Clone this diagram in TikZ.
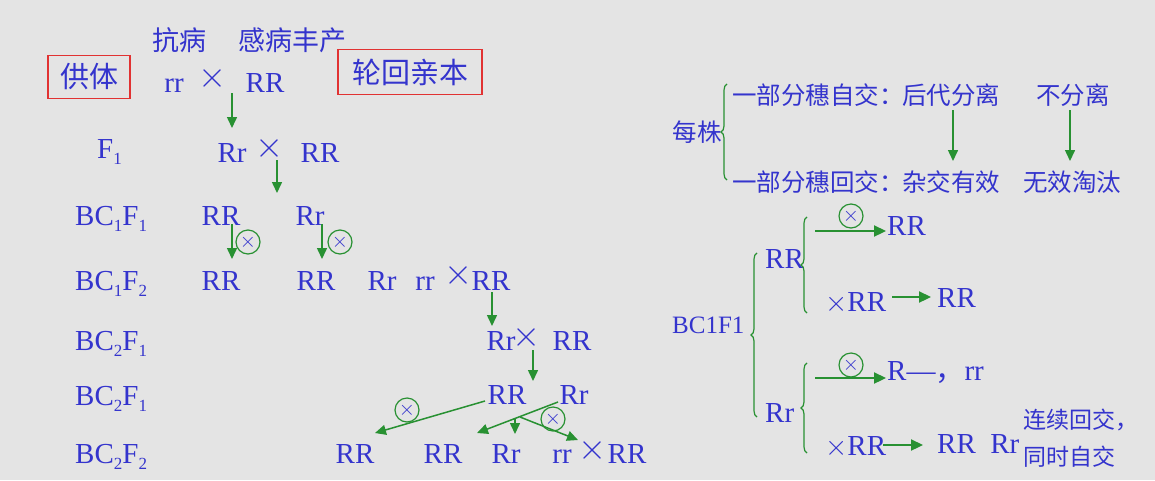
\documentclass[tikz,border=0pt]{standalone}
\usepackage{graphicx}
\usepackage{fontspec}
\setmainfont{Liberation Serif}
\newfontfamily\cjk{Noto Sans CJK SC}
\usetikzlibrary{arrows.meta,decorations.pathreplacing}
\definecolor{bg}{RGB}{228,228,228}
\definecolor{tblue}{RGB}{52,52,205}
\definecolor{tgreen}{RGB}{40,145,50}
\definecolor{tred}{RGB}{225,50,50}
\newcommand\sbs[1]{\raisebox{-6pt}{\fontsize{17}{17}\selectfont #1}}
\newcommand\mx[1]{\scalebox{#1}{$\times$}}
\newcommand\bigx{{\fontsize{24}{24}\selectfont\mx{1.15}}}
\tikzset{
 gt/.style={text=tblue,inner sep=0pt,anchor=base,font=\fontsize{29}{30}\selectfont},
 gx/.style={text=tblue,inner sep=0pt,font=\fontsize{24}{24}\selectfont},
 ct/.style={text=tblue,inner sep=0pt,font=\cjk\fontsize{27}{30}\selectfont},
 rt/.style={text=tblue,inner sep=0pt,font=\cjk\fontsize{24.5}{28}\selectfont},
 redbox/.style={draw=tred,line width=1.6pt,inner sep=0pt},
 ga/.style={draw=tgreen,line width=1.5pt,-{Triangle[length=11pt,width=10pt]}},
 gb/.style={draw=tgreen,line width=2.2pt,-{Triangle[length=12pt,width=11pt]}},
 selfx/.style={circle,draw=tgreen,line width=1.2pt,minimum size=24pt,inner sep=0pt,text=tblue,font=\fontsize{20}{20}\selectfont},
 gbrace/.style={draw=tgreen,line width=1.2pt,decorate,decoration={brace,amplitude=6pt}},
}
\begin{document}
\begin{tikzpicture}[x=1pt,y=-1pt]
\useasboundingbox[fill=bg] (0,0) rectangle (1155,480);
% ---------- left: header ----------
\node[ct] (kb) at (179,40) {抗病};
\node[ct] (gb) at (292,40) {感病丰产};
\node[ct,redbox,minimum width=82pt,minimum height=43pt,font=\cjk\fontsize{29}{30}\selectfont] (gt) at (89,77) {供体};
\node[ct,redbox,minimum width=144pt,minimum height=45pt,font=\cjk\fontsize{29}{30}\selectfont] (lh) at (410,72) {轮回亲本};
\node[gt] (p0a) at (174,92) {rr};
\node[gx] (p0x) at (213,78) {\mx{1.45}};
\node[gt] (p0b) at (265,92) {RR};
% ---------- F1 ----------
\node[gt,anchor=base west] (lF1) at (97,158) {F\sbs{1}};
\node[gt] (f1a) at (232,162) {Rr};
\node[gx] (f1x) at (270,148) {\mx{1.45}};
\node[gt] (f1b) at (320,162) {RR};
\coordinate (a0s) at (232,93); \coordinate (a0e) at (232,128);
\draw[ga] (a0s) -- (a0e);
\coordinate (a1s) at (277,160); \coordinate (a1e) at (277,193);
\draw[ga] (a1s) -- (a1e);
% ---------- BC1F1 ----------
\node[gt,anchor=base west] (l11) at (75,225) {BC\sbs{1}F\sbs{1}};
\node[gt] (b11a) at (221,225) {RR};
\node[gt] (b11b) at (310,225) {Rr};
% ---------- BC1F2 ----------
\node[gt,anchor=base west] (l12) at (75,290) {BC\sbs{1}F\sbs{2}};
\node[gt] (b12a) at (221,290) {RR};
\node[gt] (b12b) at (316,290) {RR};
\node[gt] (b12c) at (382,290) {Rr};
\node[gt] (b12d) at (425,290) {rr};
\node[gx] (b12x) at (459,275) {\mx{1.45}};
\node[gt] (b12e) at (491,290) {RR};
\coordinate (a2s) at (232,224); \coordinate (a2e) at (232,259);
\draw[ga] (a2s) -- (a2e);
\node[selfx] (s1) at (248,242) {$\times$};
\coordinate (a3s) at (322,224); \coordinate (a3e) at (322,259);
\draw[ga] (a3s) -- (a3e);
\node[selfx] (s2) at (340,242) {$\times$};
% ---------- BC2F1 ----------
\node[gt,anchor=base west] (l21) at (75,350) {BC\sbs{2}F\sbs{1}};
\node[gt] (b21a) at (501,350) {Rr};
\node[gx] (b21x) at (527,337) {\mx{1.45}};
\node[gt] (b21b) at (572,350) {RR};
\coordinate (a4s) at (492,292); \coordinate (a4e) at (492,326);
\draw[ga] (a4s) -- (a4e);
\coordinate (a5s) at (533,350); \coordinate (a5e) at (533,381);
\draw[ga] (a5s) -- (a5e);
% ---------- BC2F1 (second) ----------
\node[gt,anchor=base west] (l21b) at (75,405) {BC\sbs{2}F\sbs{1}};
\node[gt] (c1a) at (507,404) {RR};
\node[gt] (c1b) at (574,404) {Rr};
% ---------- BC2F2 ----------
\node[gt,anchor=base west] (l22) at (75,463) {BC\sbs{2}F\sbs{2}};
\node[gt] (c2a) at (355,463) {RR};
\node[gt] (c2b) at (443,463) {RR};
\node[gt] (c2c) at (506,463) {Rr};
\node[gt] (c2d) at (562,463) {rr};
\node[gx] (c2x) at (593,450) {\mx{1.45}};
\node[gt] (c2e) at (627,463) {RR};
\coordinate (d1s) at (485,401); \coordinate (d1e) at (375,433);
\draw[ga] (d1s) -- (d1e);
\node[selfx] (s3) at (407,410) {$\times$};
\coordinate (d2s) at (558,402); \coordinate (d2e) at (477,433);
\draw[ga] (d2s) -- (d2e);
\coordinate (d3s) at (515,418); \coordinate (d3e) at (515,434);
\draw[ga] (d3s) -- (d3e);
\coordinate (d4s) at (520,417); \coordinate (d4e) at (578,440);
\draw[ga] (d4s) -- (d4e);
\node[selfx] (s4) at (553,419) {$\times$};
% ---------- right: top ----------
\node[rt] (mz) at (697,132) {每株};
\draw[gbrace] (727,180) -- (727,84);
\node[rt,anchor=west] (r1a) at (732,95) {一部分穗自交：};
\node[rt,anchor=west] (r1b) at (902,95) {后代分离};
\node[rt] (r1c) at (1073,95) {不分离};
\node[rt,anchor=west] (r2a) at (732,182) {一部分穗回交：};
\node[rt,anchor=west] (r2b) at (902,182) {杂交有效};
\node[rt] (r2c) at (1072,182) {无效淘汰};
\coordinate (e1s) at (953,110); \coordinate (e1e) at (953,161);
\draw[ga] (e1s) -- (e1e);
\coordinate (e2s) at (1070,110); \coordinate (e2e) at (1070,161);
\draw[ga] (e2s) -- (e2e);
% ---------- right: BC1F1 ----------
\node[gt,anchor=base west,font=\fontsize{25}{26}\selectfont] (rb) at (672,333) {BC1F1};
\draw[gbrace] (757,417) -- (757,253);
\node[gt,anchor=base west] (rR) at (765,268) {RR};
\node[gt,anchor=base west] (rr) at (765,422) {Rr};
\draw[gbrace] (807,313) -- (807,217);
\draw[gbrace] (807,453) -- (807,363);
\coordinate (f1s) at (815,231); \coordinate (f1e) at (886,231);
\draw[gb] (f1s) -- (f1e);
\node[selfx] (s5) at (851,216) {$\times$};
\node[gt,anchor=base west] (o1) at (887,235) {RR};
\node[gt,anchor=base west] (o2) at (825,311) {\bigx RR};
\coordinate (f2s) at (892,297); \coordinate (f2e) at (931,297);
\draw[gb] (f2s) -- (f2e);
\node[gt,anchor=base west] (o3) at (937,307) {RR};
\coordinate (f3s) at (815,378); \coordinate (f3e) at (886,378);
\draw[gb] (f3s) -- (f3e);
\node[selfx] (s6) at (851,365) {$\times$};
\node[gt,anchor=base west] (o4) at (887,380) {R—{\cjk ，}rr};
\node[gt,anchor=base west] (o5) at (825,455) {\bigx RR};
\coordinate (f4s) at (883,445); \coordinate (f4e) at (923,445);
\draw[gb] (f4s) -- (f4e);
\node[gt,anchor=base west] (o6) at (937,453) {RR\ \ Rr};
\node[rt,anchor=west,font=\cjk\fontsize{23}{26}\selectfont] (o7) at (1023,420) {连续回交，};
\node[rt,anchor=west,font=\cjk\fontsize{23}{26}\selectfont] (o8) at (1023,457) {同时自交};
\end{tikzpicture}
\end{document}
